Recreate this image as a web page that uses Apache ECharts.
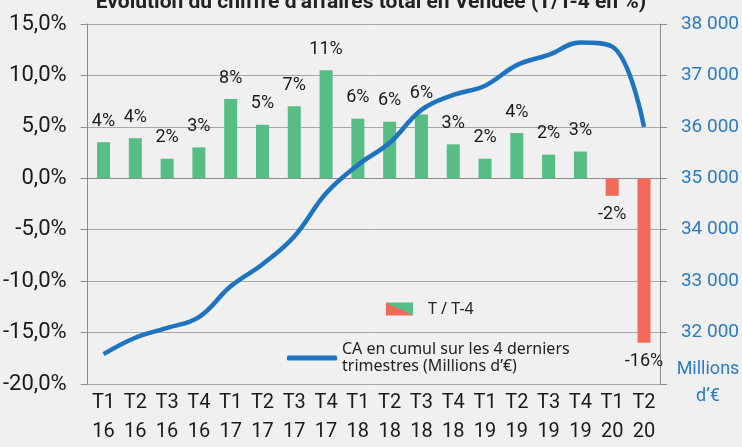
<!DOCTYPE html>
<html>
<head>
<meta charset="utf-8">
<script src="https://cdn.jsdelivr.net/npm/echarts@6/dist/echarts.min.js"></script>
<style>
html, body { margin: 0; padding: 0; background: #f0f0f0; }
#Chart { width: 742px; height: 447px; }
</style>
</head>
<body>
<div id="Chart"></div>
<script>
// 季度 / 年份标签
var Quarters = ['T1', 'T2', 'T3', 'T4', 'T1', 'T2', 'T3', 'T4', 'T1', 'T2', 'T3', 'T4', 'T1', 'T2', 'T3', 'T4', 'T1', 'T2'];
var Years = ['16', '16', '16', '16', '17', '17', '17', '17', '18', '18', '18', '18', '19', '19', '19', '19', '20', '20'];
// T / T-4 (%)
var GrowthRate = [3.5, 3.9, 1.9, 3.0, 7.7, 5.2, 7.0, 10.5, 5.8, 5.5, 6.2, 3.3, 1.9, 4.4, 2.3, 2.6, -1.7, -16.0];
// CA en cumul sur 4 trimestres (millions d'euros)
var CumulCA = [31580, 31900, 32090, 32300, 32900, 33330, 33870, 34710, 35260, 35690, 36330, 36620, 36800, 37200, 37400, 37640, 37560, 36000];

var BarName = 'T / T-4';
var LineName = 'CA en cumul sur les 4 derniers\ntrimestres (Millions d\u2019\u20ac)';

var Green = '#57bd84';
var Red = '#f26a5a';
var Blue = '#1f74c0';
var Narrow = 'Roboto, sans-serif';

var chart = echarts.init(document.getElementById('Chart'));

// 类目标签
var Categories = Quarters.map(function (q, i) { return q + '\n' + Years[i]; });

// 柱子数据: 正值绿色, 负值红色
var BarData = GrowthRate.map(function (v) {
    return {
        value: v,
        itemStyle: { color: v >= 0 ? Green : Red },
        label: { position: v >= 0 ? 'top' : 'bottom', distance: v >= 0 ? 12 : 10 }
    };
});

// 图例里的红绿斜切方块
var LegendSplit = new echarts.graphic.LinearGradient(0.26, 1.54, 0.74, -0.54, [
    { offset: 0, color: Red },
    { offset: 0.5, color: Red },
    { offset: 0.5, color: Green },
    { offset: 1, color: Green }
]);

var option = {
    backgroundColor: '#f0f0f0',
    animation: false,
    title: {
        text: '\u00c9volution du chiffre d\u2019affaires total en Vend\u00e9e (T/T-4 en %)',
        left: 'center',
        top: -13,
        textStyle: { fontFamily: Narrow, fontSize: 21, fontWeight: 'bold', color: '#222' }
    },
    grid: { left: 84, right: 77, top: 24, bottom: 63 },
    legend: [
        {
            data: [{ name: BarName, itemStyle: { color: LegendSplit } }],
            left: 386, top: 301, padding: 0,
            icon: 'rect', itemWidth: 27, itemHeight: 13,
            textStyle: { fontFamily: '"Noto Sans", sans-serif', fontSize: 16, color: '#222', padding: [0, 0, 0, 10] }
        },
        {
            data: [{ name: LineName, icon: 'roundRect', itemStyle: { color: Blue } }],
            left: 287, top: 341, padding: 0,
            itemWidth: 50, itemHeight: 5,
            textStyle: { fontFamily: '"Noto Sans", sans-serif', fontSize: 16, lineHeight: 17, color: '#222' }
        }
    ],
    xAxis: [
        {
            type: 'category',
            data: Categories,
            axisLine: { lineStyle: { color: '#8c8c8c', width: 1 } },
            axisTick: { length: 7, lineStyle: { color: '#8c8c8c' } },
            axisLabel: { show: false }
        },
        {
            type: 'category',
            data: Categories,
            position: 'bottom',
            axisLine: { show: false, onZero: false },
            axisTick: { show: false },
            axisLabel: { margin: 4, fontFamily: Narrow, fontSize: 20, lineHeight: 29, color: '#1a1a1a' }
        }
    ],
    yAxis: [
        {
            type: 'value',
            min: -20, max: 15, interval: 5,
            axisLine: { show: true, lineStyle: { color: '#8c8c8c' } },
            axisTick: { show: true, length: 7, lineStyle: { color: '#8c8c8c' } },
            splitLine: { lineStyle: { color: '#a6a6a6', width: 1 } },
            axisLabel: {
                margin: 21, fontFamily: Narrow, fontSize: 22, color: '#1a1a1a',
                formatter: function (v) { return v.toFixed(1).replace('.', ',') + '%'; }
            }
        },
        {
            type: 'value',
            min: 31000, max: 38000, interval: 1000,
            position: 'right',
            axisLine: { show: true, lineStyle: { color: '#8c8c8c' } },
            axisTick: { show: true, length: 7, lineStyle: { color: '#8c8c8c' } },
            splitLine: { show: false },
            axisLabel: {
                margin: 21, fontFamily: Narrow, fontSize: 19, color: '#2e7bc4',
                formatter: function (v) {
                    if (v === 31000) return '';
                    return String(v).replace(/\B(?=(\d{3})+(?!\d))/g, ' ');
                }
            }
        }
    ],
    graphic: [
        {
            type: 'text', x: 708, y: 383,
            style: {
                text: 'Millions\nd\u2019\u20ac', fill: '#2e7bc4',
                font: '18px Roboto, sans-serif',
                lineHeight: 27, align: 'center', verticalAlign: 'middle'
            }
        }
    ],
    series: [
        {
            name: BarName,
            type: 'bar',
            barWidth: 13,
            itemStyle: { color: Green },
            label: {
                show: true,
                fontFamily: Narrow, fontSize: 18, color: '#1a1a1a',
                formatter: function (p) { return Math.round(p.value) + '%'; }
            },
            data: BarData
        },
        {
            name: LineName,
            type: 'line',
            yAxisIndex: 1,
            smooth: 0.4,
            symbol: 'none',
            z: 5,
            lineStyle: { width: 4.5, color: Blue },
            itemStyle: { color: Blue },
            data: CumulCA
        }
    ]
};

chart.setOption(option);
</script>
</body>
</html>
